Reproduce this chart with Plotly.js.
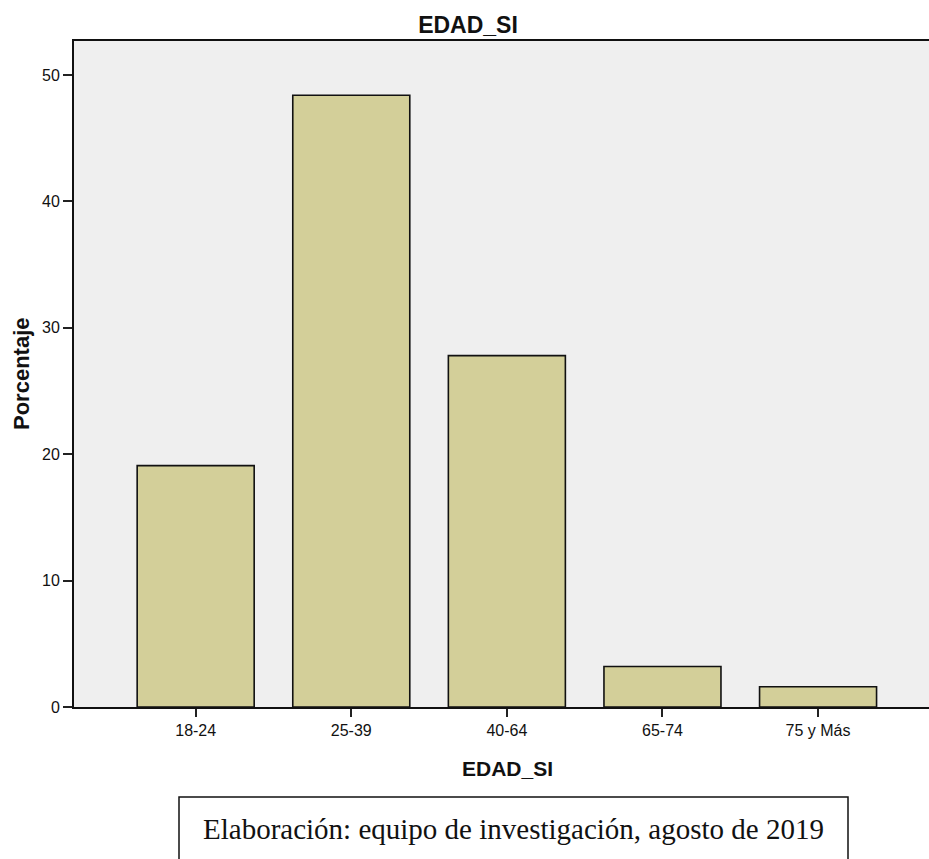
<!DOCTYPE html>
<html>
<head>
<meta charset="utf-8">
<script src="https://cdn.plot.ly/plotly-3.0.1.min.js"></script>
<style>
html,body{margin:0;padding:0;background:#fff;overflow:hidden;}
#chart{width:929px;height:859px;}
</style>
</head>
<body>
<div id="chart"></div>
<script>
const categories = ["18-24", "25-39", "40-64", "65-74", "75 y Más"];
const porcentaje = [19.1, 48.4, 27.8, 3.2, 1.6];
const yTicks = [0, 10, 20, 30, 40, 50];
const chartTitle = "EDAD_SI";
const xTitle = "EDAD_SI";
const yTitle = "Porcentaje";
const caption = "Elaboración: equipo de investigación, agosto de 2019";

const W = 929, H = 859;
const L = 74, R = 0, T = 41, B = 152;
const PW = W - L - R, PH = H - T - B;
const px = x => (x - L) / PW;
const py = y => (H - B - y) / PH;

const trace = {
  type: "bar",
  x: categories,
  y: porcentaje,
  marker: { color: "#d3cf99", line: { color: "#111", width: 1.6 } },
  hoverinfo: "x+y"
};

const layout = {
  width: W, height: H,
  margin: { l: L, r: R, t: T, b: B, pad: 0 },
  paper_bgcolor: "#ffffff",
  plot_bgcolor: "#efefef",
  bargap: 0.248,
  showlegend: false,
  font: { family: "Liberation Sans, Arial, sans-serif", color: "#111" },
  title: {
    text: chartTitle,
    font: { family: "Liberation Sans, Arial, sans-serif", size: 23, color: "#111", weight: "bold" },
    xref: "container", yref: "container",
    x: 468 / W, y: 1 - 25 / H, xanchor: "center", yanchor: "middle"
  },
  xaxis: {
    type: "category",
    range: [-0.782, 4.713],
    showgrid: false, zeroline: false,
    showline: true, linecolor: "#111", linewidth: 2,
    mirror: true,
    ticks: "outside", ticklen: 8, tickwidth: 2, tickcolor: "#222",
    tickfont: { size: 16, color: "#111" },
    fixedrange: true
  },
  yaxis: {
    range: [0, 52.69],
    tickvals: yTicks,
    showgrid: false, zeroline: false,
    showline: true, linecolor: "#111", linewidth: 2,
    ticks: "outside", ticklen: 9, tickwidth: 2, tickcolor: "#222",
    tickfont: { size: 16, color: "#111" },
    fixedrange: true
  },
  annotations: [
    {
      text: "<b>" + xTitle + "</b>", xref: "paper", yref: "paper",
      x: px(507), y: py(768), xanchor: "center", yanchor: "middle",
      showarrow: false, font: { size: 21, color: "#111" }
    },
    {
      text: "<b>" + yTitle + "</b>", xref: "paper", yref: "paper",
      x: px(21), y: py(374), xanchor: "center", yanchor: "middle",
      textangle: -90, showarrow: false, font: { size: 22, color: "#111" }
    },
    {
      text: caption, xref: "paper", yref: "paper",
      x: px(513), y: py(829), xanchor: "center", yanchor: "middle",
      showarrow: false,
      font: { family: "Liberation Serif, Times New Roman, serif", size: 29, color: "#111" }
    }
  ],
  shapes: [
    {
      type: "rect", xref: "paper", yref: "paper",
      x0: px(179), x1: px(848), y0: py(870), y1: py(797),
      line: { color: "#111", width: 1.5 }, fillcolor: "rgba(0,0,0,0)"
    }
  ]
};

Plotly.newPlot("chart", [trace], layout, { displayModeBar: false, staticPlot: true });
</script>
</body>
</html>
